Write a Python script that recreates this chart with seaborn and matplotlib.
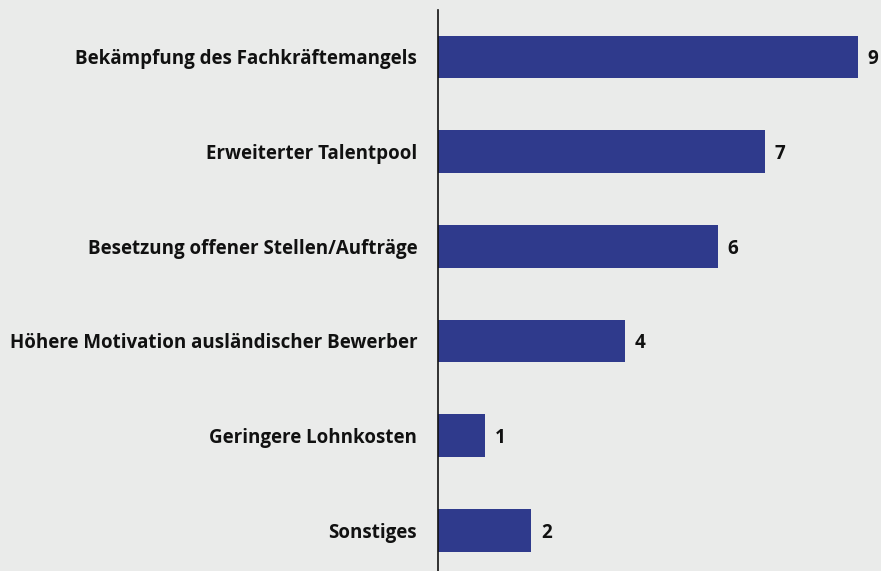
import matplotlib
matplotlib.use("Agg")
import matplotlib.pyplot as plt
import seaborn as sns
import pandas as pd

categories = [
    "Bekämpfung des Fachkräftemangels",
    "Erweiterter Talentpool",
    "Besetzung offener Stellen/Aufträge",
    "Höhere Motivation ausländischer Bewerber",
    "Geringere Lohnkosten",
    "Sonstiges",
]
values = [9, 7, 6, 4, 1, 2]

df = pd.DataFrame({"cat": categories, "val": values})

sns.set_theme(style="white")
plt.rcParams["font.family"] = ["Open Sans", "DejaVu Sans"]

bg = "#eaebea"
bar_color = "#2f3a8c"
fs = 13.5

fig = plt.figure(figsize=(8.81, 5.71), dpi=100, facecolor=bg)
ax = fig.add_axes([438 / 881, 0, 443 / 881, (571 - 9.5) / 571])
ax.set_facecolor(bg)

sns.barplot(data=df, x="val", y="cat", orient="h", color=bar_color,
            saturation=1, width=0.45, linewidth=0, ax=ax)

ax.set_xlim(0, 443 / 46.67)
ax.set_ylim(5.43, -0.5)

for c in ax.containers:
    texts = ax.bar_label(c, labels=[str(v) for v in values], padding=7,
                         fontsize=fs, fontweight="bold", color="#111111")
    for t in texts:
        t.set_va("center_baseline")

for s in ["top", "right", "bottom"]:
    ax.spines[s].set_visible(False)
ax.spines["left"].set_color("#111111")
ax.spines["left"].set_linewidth(1.2)

ax.set_xticks([])
ax.set_xlabel("")
ax.set_ylabel("")
ax.tick_params(axis="y", length=0, pad=15)
for lbl in ax.get_yticklabels():
    lbl.set_fontsize(fs)
    lbl.set_fontweight("bold")
    lbl.set_color("#111111")

fig.savefig("out.png", dpi=100, facecolor=bg)
